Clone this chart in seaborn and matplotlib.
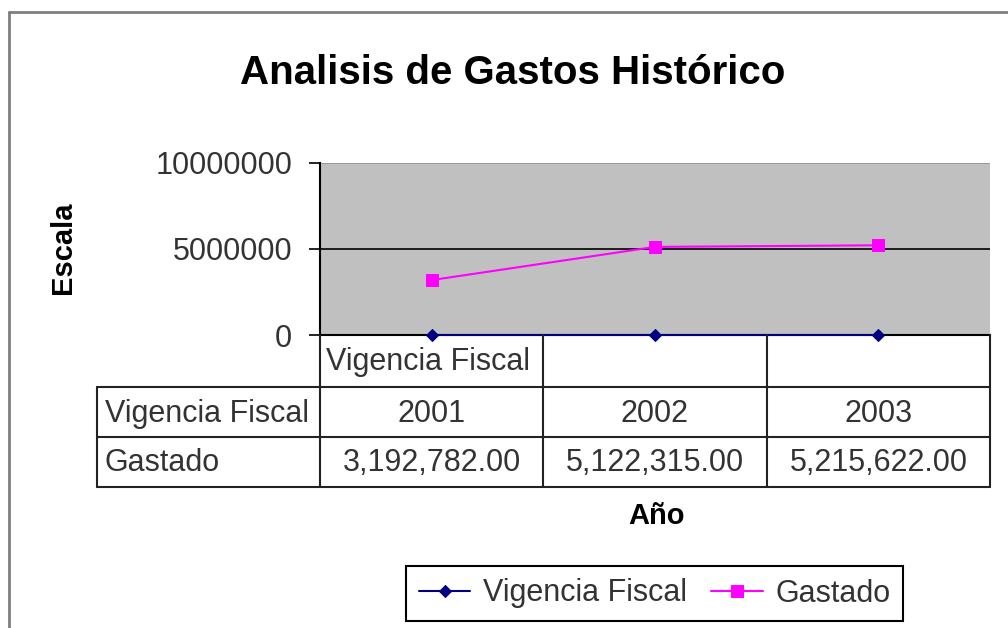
import numpy as np
import pandas as pd
import matplotlib
matplotlib.use("Agg")
import matplotlib.pyplot as plt
from matplotlib.lines import Line2D
import seaborn as sns

# ---------------- data ----------------
category_labels = ["Vigencia Fiscal", "", ""]
series_names = ["Vigencia Fiscal", "Gastado"]
vigencia_values = [2001, 2002, 2003]
gastado_values = [3192782.00, 5122315.00, 5215622.00]
y_ticks = [0, 5000000, 10000000]

sns.set_style("white")
plt.rcParams['font.family'] = ['Liberation Sans', 'DejaVu Sans']

W, H = 1008, 628
def fx(px): return px / W
def fy(py): return 1 - py / H

fig = plt.figure(figsize=(10.08, 6.28), dpi=100)
ax = fig.add_axes([fx(320), fy(335), fx(990) - fx(320), fy(163) - fy(335)])

pos = list(range(len(vigencia_values)))
df_vig = pd.DataFrame({"pos": pos, "value": vigencia_values})
df_gas = pd.DataFrame({"pos": pos, "value": gastado_values})

sns.lineplot(data=df_vig, x="pos", y="value", ax=ax, color="#000080", marker="D",
             markersize=6, markeredgecolor="#000080", linewidth=1.5,
             label=series_names[0], clip_on=False, zorder=5)
sns.lineplot(data=df_gas, x="pos", y="value", ax=ax, color="#FF00FF", marker="s",
             markersize=8.5, markeredgecolor="#FF00FF", linewidth=1.5,
             label=series_names[1], zorder=5)

ax.set_xlim(-0.5, len(pos) - 0.5)
ax.set_ylim(y_ticks[0], y_ticks[-1])
ax.set_facecolor("#C0C0C0")
ax.set_yticks(y_ticks)
ax.set_yticklabels([str(t) for t in y_ticks])
ax.set_xticks([])
ax.set_xlabel("")
ax.set_ylabel("")
ax.tick_params(axis="y", direction="out", length=8, width=1.2, color="black",
               labelsize=22, labelcolor="#333333", pad=12, left=True)
ax.yaxis.grid(True, color="black", linewidth=1.2)
ax.yaxis.get_gridlines()[-1].set_color("#909090")
for side in ["top", "right"]:
    ax.spines[side].set_visible(False)
for side in ["left", "bottom"]:
    ax.spines[side].set_color("black")
    ax.spines[side].set_linewidth(1.5)
handles, labels = ax.get_legend_handles_labels()
ax.get_legend().remove()

# ---------------- data table under the axis ----------------
def col_x(b):
    d = ax.transData.transform((b, 0))
    return fig.transFigure.inverted().transform(d)[0]

bounds = [col_x(b) for b in np.arange(-0.5, len(pos), 1.0)]
centers = [col_x(p) for p in pos]
line_kw = dict(color="#222222", linewidth=1.5, transform=fig.transFigure)

for b in bounds:
    fig.add_artist(Line2D([b, b], [fy(335), fy(487)], **line_kw))
fig.add_artist(Line2D([fx(97), fx(97)], [fy(387), fy(487)], **line_kw))
for yy in [387, 437, 487]:
    fig.add_artist(Line2D([fx(97), bounds[-1]], [fy(yy), fy(yy)], **line_kw))

txt_kw = dict(fontsize=22, color="#333333", va="center")
for i, lab in enumerate(category_labels):
    fig.text(bounds[i] + fx(6), fy(362), lab, ha="left", **txt_kw)
fig.text(fx(105), fy(414), series_names[0], ha="left", **txt_kw)
fig.text(fx(105), fy(463), series_names[1], ha="left", **txt_kw)
for c, v in zip(centers, vigencia_values):
    fig.text(c, fy(414), str(v), ha="center", **txt_kw)
for c, v in zip(centers, gastado_values):
    fig.text(c, fy(463), f"{v:,.2f}", ha="center", **txt_kw)

# ---------------- titles ----------------
fig.text(fx(513), fy(73), "Analisis de Gastos Histórico", fontsize=29,
         fontweight="bold", ha="center", va="center", color="black")
fig.text(fx(63), fy(248), "Escala", fontsize=21, fontweight="bold",
         rotation=90, ha="center", va="center", color="black")
fig.text(fx(657), fy(516), "Año", fontsize=21, fontweight="bold",
         ha="center", va="center", color="black")

# ---------------- legend ----------------
leg = fig.legend(handles, labels, loc="center", bbox_to_anchor=(fx(654.5), fy(593.5)),
                 ncol=2, frameon=True, fancybox=False, framealpha=1, fontsize=22,
                 handlelength=1.7, columnspacing=0.8, handletextpad=0.4,
                 borderpad=0.4, borderaxespad=0)
leg.get_frame().set_edgecolor("black")
leg.get_frame().set_linewidth(1.5)
for t in leg.get_texts():
    t.set_color("#333333")

# outer chart border (top and left edges visible)
border_kw = dict(color="#7f7f7f", linewidth=2, transform=fig.transFigure)
fig.add_artist(Line2D([fx(9), 1], [fy(12), fy(12)], **border_kw))
fig.add_artist(Line2D([fx(9), fx(9)], [fy(12), 0], **border_kw))

fig.savefig("out.png", dpi=100)
